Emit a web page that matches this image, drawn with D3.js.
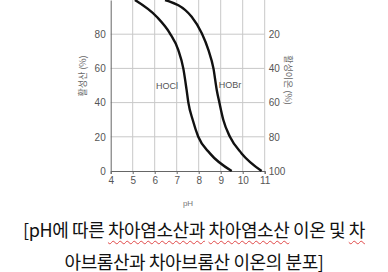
<!DOCTYPE html>
<html>
<head>
<meta charset="utf-8">
<script src="https://cdn.jsdelivr.net/npm/d3@7/dist/d3.min.js"></script>
<style>
  html, body { margin: 0; padding: 0; background: #fff; }
  body { width: 388px; height: 272px; overflow: hidden; position: relative; }
  #chart { position: absolute; left: 0; top: 0; }
  #caption {
    position: absolute; left: 0; top: 213px; width: 388px; text-align: center;
    font-family: "Noto Sans CJK KR", "Noto Sans", sans-serif; font-size: 18px; line-height: 32px;
    color: #111; letter-spacing: -0.4px;
  }
  #caption .sp { text-decoration: underline wavy #e04848; text-decoration-thickness: 1px; text-underline-offset: 3px; }
  .tick text { font-family: "Liberation Sans Narrow", "Arial Narrow", "Liberation Sans", sans-serif; font-size: 10px; fill: #555; }
</style>
</head>
<body>
<svg id="chart" width="388" height="210"></svg>
<div id="caption"></div>
<script>
  // pH vs. percentage
  var hoclPH  = [5.1, 6.09, 6.69, 7.07, 7.3, 7.45, 7.53, 7.73, 7.98, 8.51, 9.5];
  var hoclPct = [100, 90.2, 80.5, 70.8, 60, 47.4, 40, 29.8, 20, 10.3, 0];
  var hobrPH  = [6.47, 7.68, 8.14, 8.44, 8.67, 8.82, 8.94, 9.12, 9.42, 9.95, 10.86];
  var hobrPct = [100, 90.2, 80.5, 70.8, 60, 47.4, 40, 29.8, 20, 10.3, 0];
  var xTicks = [4, 5, 6, 7, 8, 9, 10, 11];
  var leftTicks = [0, 20, 40, 60, 80];
  var rightTicks = [20, 40, 60, 80, 100];   // ion % = 100 - acid %
  var leftLabel = "활성산 (%)", rightLabel = "활성이온 (%)", xLabel = "pH";
  var captionLines = [
    [["[pH에 따른 ", 0], ["차아염소산과", 1], [" ", 0], ["차아염소산", 1], [" 이온 및 ", 0], ["차", 1]],
    [["아브롬산과", 1], [" ", 0], ["차아브롬산", 1], [" 이온의 분포]", 0]]
  ];

  var svg = d3.select("#chart");
  var x = d3.scaleLinear().domain([4, 11]).range([110.7, 264.7]);
  var y = d3.scaleLinear().domain([0, 100]).range([171, 0]);

  // grid
  var g = svg.append("g");
  g.selectAll("line.v").data(xTicks.slice(1)).enter().append("line")
    .attr("x1", x).attr("x2", x).attr("y1", y(100)).attr("y2", y(0))
    .attr("stroke", "#c8c8c8").attr("stroke-width", 1);
  g.selectAll("line.h").data([20, 40, 60, 80]).enter().append("line")
    .attr("x1", x(4)).attr("x2", x(11)).attr("y1", y).attr("y2", y)
    .attr("stroke", "#c8c8c8").attr("stroke-width", 1);

  // axes
  svg.append("g").attr("transform", "translate(" + x(4) + ",0)")
    .call(d3.axisLeft(y).tickValues(leftTicks).tickSize(0).tickPadding(5))
    .call(function (s) { s.select(".domain").attr("stroke", "#666"); });
  svg.append("g").attr("transform", "translate(0," + y(0) + ")")
    .call(d3.axisBottom(x).tickValues(xTicks).tickFormat(d3.format("d")).tickSize(3).tickPadding(3))
    .call(function (s) { s.select(".domain").attr("stroke", "#666"); s.selectAll(".tick line").attr("stroke", "#666"); });
  var yR = d3.scaleLinear().domain([0, 100]).range([0, 171]);
  svg.append("g").attr("transform", "translate(" + x(11) + ",0)")
    .call(d3.axisRight(yR).tickValues(rightTicks).tickSize(0).tickPadding(4))
    .call(function (s) { s.select(".domain").remove(); });

  // curves
  var line = d3.line().x(function (d) { return x(d[0]); }).y(function (d) { return y(d[1]); }).curve(d3.curveMonotoneX);
  [[hoclPH, hoclPct], [hobrPH, hobrPct]].forEach(function (s) {
    svg.append("path").datum(d3.zip(s[0], s[1])).attr("d", line)
      .attr("fill", "none").attr("stroke", "#111").attr("stroke-width", 2.4);
  });

  // labels
  var lab = "font-family:'Liberation Sans Narrow','Liberation Sans',sans-serif;";
  svg.append("text").attr("x", 167).attr("y", 89).attr("text-anchor", "middle")
    .attr("style", lab + "font-size:9px;fill:#555").text("HOCl");
  svg.append("text").attr("x", 230).attr("y", 88).attr("text-anchor", "middle")
    .attr("style", lab + "font-size:9px;fill:#555").text("HOBr");
  svg.append("text").attr("x", 188).attr("y", 206).attr("text-anchor", "middle")
    .attr("style", lab + "font-size:8px;fill:#777").text(xLabel);
  svg.append("text").attr("transform", "translate(86,76) rotate(-90)").attr("text-anchor", "middle")
    .attr("style", "font-family:'Noto Sans CJK KR',sans-serif;font-size:9px;fill:#666").text(leftLabel);
  svg.append("text").attr("transform", "translate(285,80) rotate(90)").attr("text-anchor", "middle")
    .attr("style", "font-family:'Noto Sans CJK KR',sans-serif;font-size:9px;fill:#666").text(rightLabel);

  // caption
  var cap = d3.select("#caption");
  captionLines.forEach(function (ln) {
    var d = cap.append("div");
    ln.forEach(function (p) { d.append("span").attr("class", p[1] ? "sp" : null).text(p[0]); });
  });
</script>
</body>
</html>
